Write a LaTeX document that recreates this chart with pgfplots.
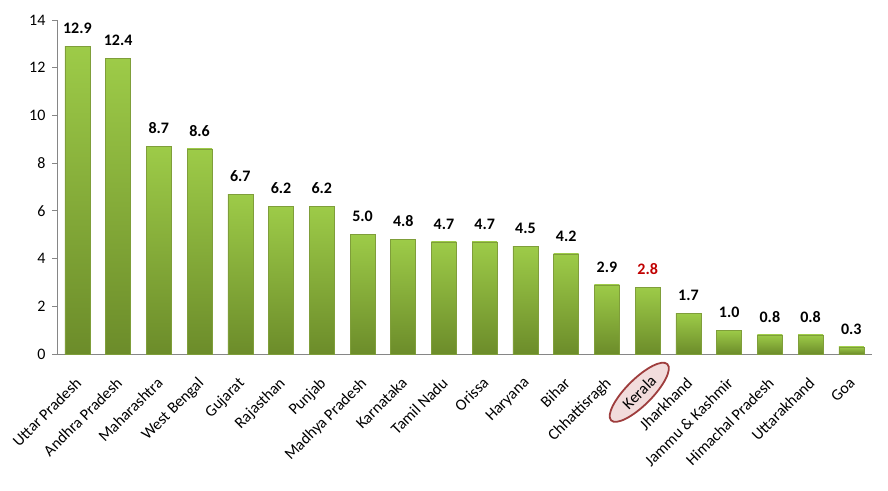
\documentclass[border=0pt]{standalone}
\usepackage{fontspec}
\setmainfont{Carlito}
\usepackage{pgfplots}
\pgfplotsset{compat=1.18}
\usetikzlibrary{shapes.geometric}
\definecolor{bartop}{HTML}{9DCB48}
\definecolor{barbot}{HTML}{6C8C2A}
\definecolor{barline}{HTML}{7F9E3A}
\definecolor{kred}{HTML}{C00000}
\definecolor{ellline}{HTML}{9E3D3D}
\definecolor{ellfill}{HTML}{F2DCDC}
\definecolor{axgray}{HTML}{868686}
\pgfplotsset{gbar/.style={bar shift=0pt, draw=barline, line width=0.6pt, top color=bartop, bottom color=barbot}}
\begin{document}
\begin{tikzpicture}
\begin{axis}[
  scale only axis,
  width=814.7pt, height=334pt,
  at={(0,0)}, anchor=south west,
  xmin=-0.5, xmax=19.5,
  ymin=0, ymax=14,
  ytick={0,2,...,14},
  axis x line*=bottom, axis y line*=left,
  axis line style={axgray, line width=0.8pt},
  y axis line style={-},
  x axis line style={-},
  tick style={axgray, line width=0.8pt},
  major tick length=5pt,
  tick align=outside,
  xtick={0,...,19},
  x tick style={draw=none},
  minor xtick={-0.5,0.5,...,19.5},
  minor x tick style={axgray, line width=0.8pt},
  minor tick length=5pt,
  xticklabels={Uttar Pradesh,Andhra Pradesh,Maharashtra,West Bengal,Gujarat,Rajasthan,Punjab,Madhya Pradesh,Karnataka,Tamil Nadu,Orissa,Haryana,Bihar,Chhattisragh,,Jharkhand,Jammu \& Kashmir,Himachal Pradesh,Uttarakhand,Goa},
  xticklabel style={xshift=-3pt, yshift=-17pt, rotate=45, anchor=north east, font=\fontsize{16}{18}\selectfont, inner sep=0pt},
  extra x ticks={14},
  extra x tick labels={Kerala},
  extra x tick style={
    major tick length=0pt,
    xticklabel style={draw=ellline, fill=ellfill, line width=1.8pt, ellipse, inner xsep=8pt, inner ysep=3pt, minimum height=26pt, anchor=north east, xshift=9.9pt, yshift=-1.4pt}},
  yticklabel style={font=\fontsize{16}{18}\selectfont, xshift=-3pt},
  /pgf/number format/assume math mode=true,
  ybar, bar width=25pt,
  nodes near coords,
  nodes near coords style={font=\fontsize{16}{18}\selectfont\bfseries, /pgf/number format/fixed, /pgf/number format/fixed zerofill, /pgf/number format/precision=1, /pgf/number format/assume math mode=true, yshift=9pt},
  clip=false,
]
\addplot[gbar] coordinates {(0,12.9)};
\addplot[gbar] coordinates {(1,12.4)};
\addplot[gbar] coordinates {(2,8.7)};
\addplot[gbar] coordinates {(3,8.6)};
\addplot[gbar] coordinates {(4,6.7)};
\addplot[gbar] coordinates {(5,6.2)};
\addplot[gbar] coordinates {(6,6.2)};
\addplot[gbar] coordinates {(7,5.0)};
\addplot[gbar] coordinates {(8,4.8)};
\addplot[gbar] coordinates {(9,4.7)};
\addplot[gbar] coordinates {(10,4.7)};
\addplot[gbar] coordinates {(11,4.5)};
\addplot[gbar] coordinates {(12,4.2)};
\addplot[gbar] coordinates {(13,2.9)};
\addplot[gbar, nodes near coords style={text=kred}] coordinates {(14,2.8)};
\addplot[gbar] coordinates {(15,1.7)};
\addplot[gbar] coordinates {(16,1.0)};
\addplot[gbar] coordinates {(17,0.8)};
\addplot[gbar] coordinates {(18,0.8)};
\addplot[gbar] coordinates {(19,0.3)};
\end{axis}
\path[use as bounding box] (-57pt,-136pt) rectangle (831pt,354pt);
\end{tikzpicture}
\end{document}
